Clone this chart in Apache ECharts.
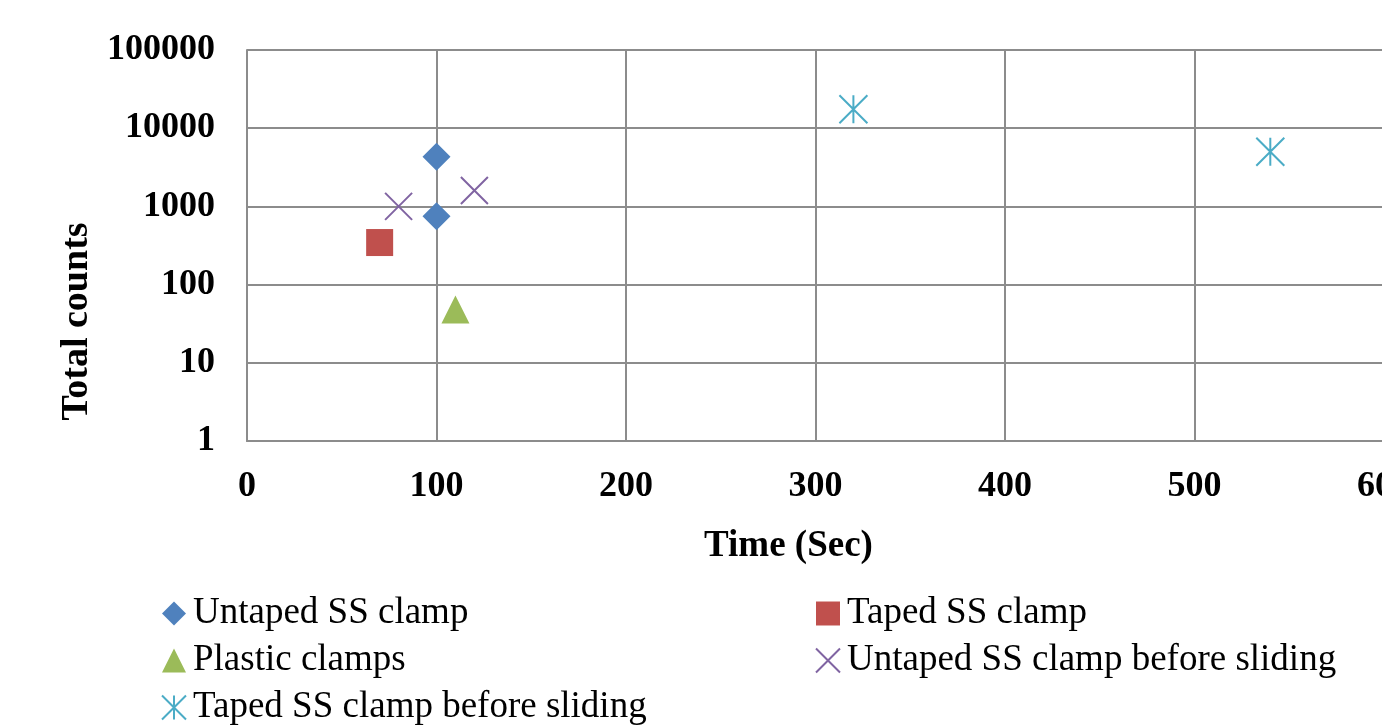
<!DOCTYPE html>
<html>
<head>
<meta charset="utf-8">
<script src="https://cdn.jsdelivr.net/npm/echarts@6/dist/echarts.min.js"></script>
<style>
  html, body { margin: 0; padding: 0; background: #fff; }
  #chart { width: 1382px; height: 726px; }
</style>
</head>
<body>
<div id="chart"></div>
<script>
// data
var untapedSS = [[100, 4300], [100, 750]];
var tapedSS = [[70, 345]];
var plastic = [[110, 48]];
var untapedSliding = [[80, 1000], [120, 1600]];
var tapedSliding = [[320, 17500], [540, 5000]];

var seriesNames = [
  'Untaped SS clamp',
  'Taped SS clamp',
  'Plastic clamps',
  'Untaped SS clamp before sliding',
  'Taped SS clamp before sliding'
];

var FONT = '"Liberation Serif", "Times New Roman", serif';
var gridColor = '#8c8c8c';

var chart = echarts.init(document.getElementById('chart'));

var legendText = { fontFamily: FONT, fontSize: 37, lineHeight: 34, color: '#000', padding: [0, 0, 0, 2] };

var option = {
  animation: false,
  backgroundColor: '#fff',
  textStyle: { fontFamily: FONT, color: '#000' },
  grid: {
    left: 247,
    top: 50,
    width: 1137,
    height: 391,
    containLabel: false,
    outerBoundsMode: 'none'
  },
  legend: [{
    orient: 'vertical',
    left: 161,
    top: 595,
    height: 140,
    padding: 0,
    itemWidth: 24,
    itemHeight: 24,
    itemGap: 10,
    textStyle: legendText,
    data: [seriesNames[0], seriesNames[2], seriesNames[4]]
  }, {
    orient: 'vertical',
    left: 815,
    top: 595,
    height: 140,
    padding: 0,
    itemWidth: 24,
    itemHeight: 24,
    itemGap: 10,
    textStyle: legendText,
    data: [seriesNames[1], seriesNames[3]]
  }],
  xAxis: {
    type: 'value',
    min: 0,
    max: 600,
    interval: 100,
    name: 'Time (Sec)',
    nameLocation: 'middle',
    nameGap: 87,
    nameTextStyle: { fontFamily: FONT, fontSize: 37, fontWeight: 'bold', color: '#000', padding: [0, 54, 0, 0] },
    axisLine: { show: true, lineStyle: { color: gridColor, width: 2 } },
    axisTick: { show: false },
    axisLabel: { fontFamily: FONT, fontSize: 36, fontWeight: 'bold', color: '#000', margin: 28 },
    splitLine: { show: true, lineStyle: { color: gridColor, width: 2 } }
  },
  yAxis: {
    type: 'log',
    logBase: 10,
    min: 1,
    max: 100000,
    name: 'Total counts',
    nameLocation: 'middle',
    nameGap: 115,
    nameTextStyle: { fontFamily: FONT, fontSize: 38, fontWeight: 'bold', color: '#000', padding: [0, 152, 0, 0] },
    axisLine: { show: true, lineStyle: { color: gridColor, width: 2 } },
    axisTick: { show: false },
    axisLabel: {
      fontFamily: FONT, fontSize: 36, fontWeight: 'bold', color: '#000', margin: 32,
      formatter: function (v) { return String(Math.round(v)); }
    },
    splitLine: { show: true, lineStyle: { color: gridColor, width: 2 } }
  },
  series: [{
    name: seriesNames[0],
    type: 'scatter',
    symbol: 'diamond',
    symbolSize: 28,
    itemStyle: { color: '#4F81BD', opacity: 1 },
    data: untapedSS
  }, {
    name: seriesNames[1],
    type: 'scatter',
    symbol: 'rect',
    symbolSize: 27,
    itemStyle: { color: '#C0504D', opacity: 1 },
    data: tapedSS
  }, {
    name: seriesNames[2],
    type: 'scatter',
    symbol: 'triangle',
    symbolSize: 28,
    itemStyle: { color: '#9BBB59', opacity: 1 },
    data: plastic
  }, {
    name: seriesNames[3],
    type: 'scatter',
    symbol: 'path://M0,0L20,20M20,0L0,20',
    symbolSize: 27,
    itemStyle: { color: 'rgba(0,0,0,0)', borderColor: '#8064A2', borderWidth: 2, opacity: 1 },
    data: untapedSliding
  }, {
    name: seriesNames[4],
    type: 'scatter',
    symbol: 'path://M0,0L20,20M20,0L0,20M10,0L10,20',
    symbolSize: 28,
    itemStyle: { color: 'rgba(0,0,0,0)', borderColor: '#4BACC6', borderWidth: 2, opacity: 1 },
    data: tapedSliding
  }]
};

chart.setOption(option);
</script>
</body>
</html>
